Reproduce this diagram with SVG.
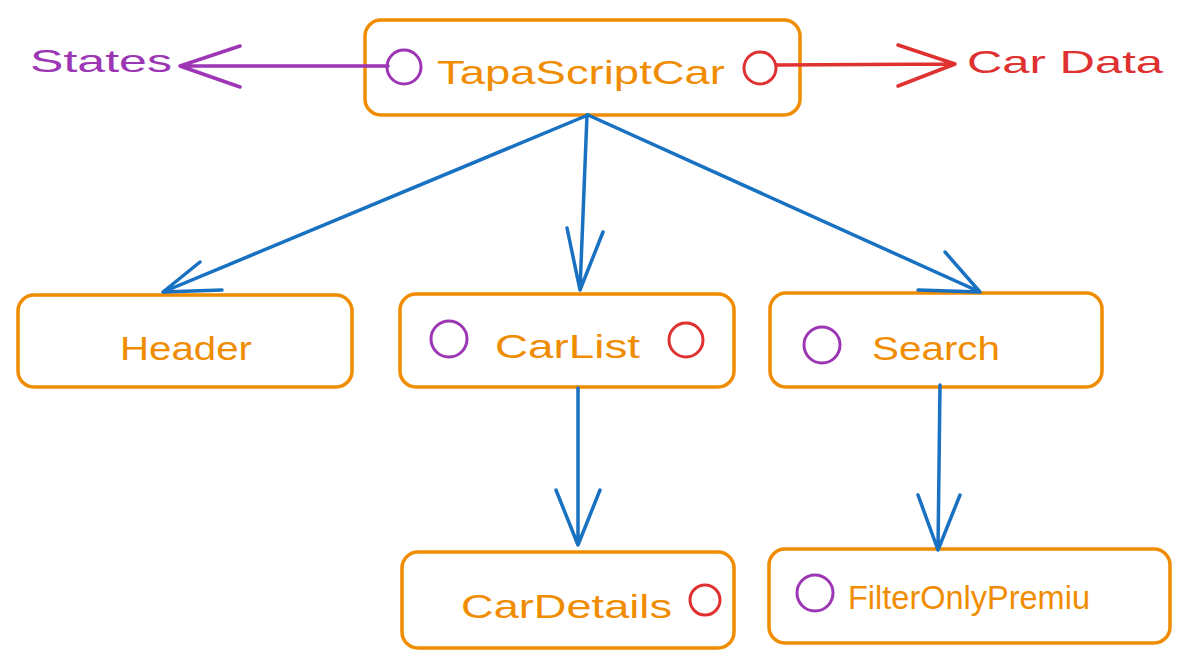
<svg xmlns="http://www.w3.org/2000/svg" width="1189" height="668" viewBox="0 0 1189 668">
<style>
.box{fill:#fff;stroke:#f08c00;stroke-width:3.5}
.lbl{font-family:"Liberation Sans",Arial,sans-serif;fill:#f08c00;font-size:34px}
.pc{fill:none;stroke:#9c36b5;stroke-width:3}
.rc{fill:none;stroke:#e03131;stroke-width:3}
.blue{fill:none;stroke:#1971c2;stroke-width:3.5;stroke-linecap:round;stroke-linejoin:round}
.purp{fill:none;stroke:#9c36b5;stroke-width:3.5;stroke-linecap:round;stroke-linejoin:round}
.red{fill:none;stroke:#e03131;stroke-width:3.5;stroke-linecap:round;stroke-linejoin:round}
</style>
<rect width="1189" height="668" fill="#fff"/>
<g id="states-label">
  <text x="30" y="72" font-family="'Liberation Sans',Arial,sans-serif" font-size="32" fill="#9c36b5" textLength="142" lengthAdjust="spacingAndGlyphs">States</text>
</g>
<g id="cardata-label">
  <text x="967" y="73" font-family="'Liberation Sans',Arial,sans-serif" font-size="32" fill="#e03131" textLength="196" lengthAdjust="spacingAndGlyphs">Car Data</text>
</g>
<g id="TapaScriptCar">
  <rect class="box" x="365" y="20" width="435" height="95" rx="16"/>
  <circle class="pc" cx="404" cy="67" r="17"/>
  <text class="lbl" x="437" y="84" textLength="288" lengthAdjust="spacingAndGlyphs">TapaScriptCar</text>
  <circle class="rc" cx="760" cy="68" r="16"/>
</g>
<g id="Header">
  <rect class="box" x="18" y="295" width="334" height="92" rx="16"/>
  <text class="lbl" x="186" y="360" text-anchor="middle" textLength="132" lengthAdjust="spacingAndGlyphs">Header</text>
</g>
<g id="CarList">
  <rect class="box" x="400" y="294" width="334" height="93" rx="16"/>
  <circle class="pc" cx="449" cy="339" r="18"/>
  <text class="lbl" x="495" y="358" textLength="145" lengthAdjust="spacingAndGlyphs">CarList</text>
  <circle class="rc" cx="686" cy="340" r="17"/>
</g>
<g id="Search">
  <rect class="box" x="770" y="293" width="332" height="94" rx="16"/>
  <circle class="pc" cx="822" cy="345" r="18"/>
  <text class="lbl" x="872" y="360" textLength="128" lengthAdjust="spacingAndGlyphs">Search</text>
</g>
<g id="CarDetails">
  <rect class="box" x="402" y="552" width="332" height="96" rx="16"/>
  <text class="lbl" x="461" y="618" textLength="211" lengthAdjust="spacingAndGlyphs">CarDetails</text>
  <circle class="rc" cx="705" cy="600" r="15"/>
</g>
<g id="FilterOnlyPremiu">
  <rect class="box" x="769" y="549" width="401" height="94" rx="16"/>
  <circle class="pc" cx="815" cy="593" r="18"/>
  <text class="lbl" x="848" y="609" font-size="28" textLength="242" lengthAdjust="spacingAndGlyphs">FilterOnlyPremiu</text>
</g>
<g id="connectors">
  <path class="purp" d="M388 66 L180 66 M240 46 L180 66 L240 87"/>
  <path class="red" d="M777 65 L955 64 M898 45 L955 64 L898 86"/>
  <path class="blue" d="M588 115 L163 292 M222 290 L163 292 L200 262"/>
  <path class="blue" d="M587 115 L580 290 M567 228 L580 290 L603 232"/>
  <path class="blue" d="M588 115 L980 292 M918 290 L980 292 L945 252"/>
  <path class="blue" d="M578 388 L578 545 M556 490 L578 545 L600 490"/>
  <path class="blue" d="M940 385 L938 550 M918 495 L938 550 L960 495"/>
</g>
</svg>
